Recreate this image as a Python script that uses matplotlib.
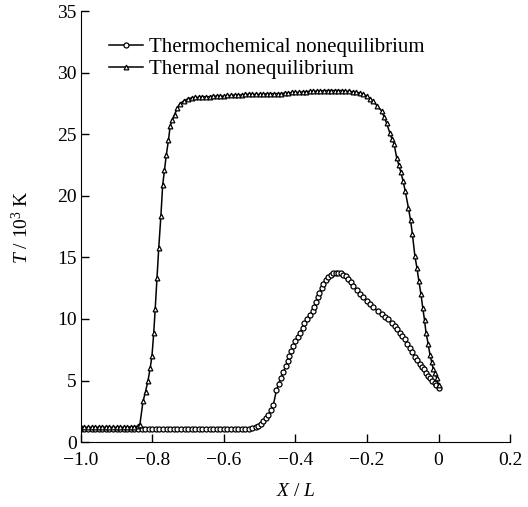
import numpy as np
import matplotlib
matplotlib.use('Agg')
import matplotlib.pyplot as plt

plt.rcParams['font.family'] = 'Liberation Serif'
plt.rcParams['mathtext.fontset'] = 'custom'
plt.rcParams['mathtext.rm'] = 'Liberation Serif'
plt.rcParams['mathtext.it'] = 'Liberation Serif:italic'

# Thermochemical nonequilibrium (circles)
chem_x = [-1.00, -0.99, -0.98, -0.97, -0.96, -0.95, -0.94, -0.93, -0.92, -0.91,
          -0.90, -0.89, -0.88, -0.87, -0.86, -0.85, -0.84, -0.83, -0.82, -0.81,
          -0.80, -0.79, -0.78, -0.77, -0.76, -0.75, -0.74, -0.73, -0.72, -0.71,
          -0.70, -0.69, -0.68, -0.67, -0.66, -0.65, -0.64, -0.63, -0.62, -0.61,
          -0.60, -0.59, -0.58, -0.57, -0.56, -0.55, -0.54, -0.53, -0.52, -0.51,
          -0.504, -0.497, -0.490, -0.483, -0.476, -0.469, -0.462, -0.453, -0.447, -0.441,
          -0.434, -0.427, -0.422, -0.417, -0.411, -0.406, -0.400, -0.394, -0.387, -0.380,
          -0.375, -0.369, -0.360, -0.352, -0.347, -0.343, -0.338, -0.333, -0.327, -0.322,
          -0.315, -0.308, -0.301, -0.294, -0.287, -0.280, -0.273, -0.266, -0.259, -0.252,
          -0.245, -0.238, -0.229, -0.220, -0.210, -0.201, -0.191, -0.182, -0.170, -0.159,
          -0.150, -0.140, -0.131, -0.122, -0.115, -0.108, -0.101, -0.094, -0.087, -0.080,
          -0.073, -0.066, -0.059, -0.052, -0.046, -0.041, -0.035, -0.029, -0.023, -0.017,
          -0.011, -0.006, 0.0]
chem_t = [1.1, 1.1, 1.1, 1.1, 1.1, 1.1, 1.1, 1.1, 1.1, 1.1,
          1.1, 1.1, 1.1, 1.1, 1.1, 1.1, 1.1, 1.1, 1.1, 1.1,
          1.1, 1.1, 1.1, 1.1, 1.1, 1.1, 1.1, 1.1, 1.1, 1.1,
          1.1, 1.1, 1.1, 1.1, 1.1, 1.1, 1.1, 1.1, 1.1, 1.1,
          1.1, 1.1, 1.1, 1.1, 1.1, 1.1, 1.1, 1.1, 1.15, 1.2,
          1.3, 1.5, 1.7, 1.95, 2.2, 2.6, 3.0, 4.2, 4.7, 5.2,
          5.7, 6.15, 6.6, 7.0, 7.4, 7.8, 8.2, 8.55, 8.9, 9.3,
          9.65, 10.0, 10.3, 10.65, 11.0, 11.35, 11.75, 12.15, 12.5, 12.85,
          13.15, 13.4, 13.6, 13.7, 13.75, 13.75, 13.7, 13.6, 13.45, 13.25,
          13.0, 12.7, 12.35, 12.0, 11.75, 11.5, 11.2, 10.95, 10.65, 10.4,
          10.2, 10.0, 9.7, 9.45, 9.15, 8.9, 8.6, 8.35, 8.0, 7.65,
          7.3, 6.95, 6.65, 6.35, 6.1, 5.9, 5.65, 5.4, 5.2, 5.0,
          4.8, 4.6, 4.4]

# Thermal nonequilibrium (triangles)
therm_x = [-1.00, -0.99, -0.98, -0.97, -0.96, -0.95, -0.94, -0.93, -0.92, -0.91,
           -0.90, -0.89, -0.88, -0.87, -0.86, -0.85, -0.84, -0.835,
           -0.826, -0.819, -0.812, -0.806, -0.801, -0.796, -0.792, -0.787, -0.782, -0.776,
           -0.771, -0.766, -0.761, -0.755, -0.750, -0.744, -0.738, -0.730, -0.723, -0.712,
           -0.70, -0.69, -0.68, -0.67, -0.66, -0.65, -0.64, -0.63, -0.62, -0.61,
           -0.60, -0.59, -0.58, -0.57, -0.56, -0.55, -0.54, -0.53, -0.52, -0.51,
           -0.50, -0.49, -0.48, -0.47, -0.46, -0.45, -0.44, -0.43, -0.42, -0.41,
           -0.40, -0.39, -0.38, -0.37, -0.36, -0.35, -0.34, -0.33, -0.32, -0.31,
           -0.30, -0.29, -0.28, -0.27, -0.26, -0.25, -0.24, -0.23, -0.22, -0.21,
           -0.201, -0.192, -0.183, -0.171, -0.159, -0.152, -0.145, -0.136, -0.130, -0.124,
           -0.117, -0.111, -0.105, -0.099, -0.093, -0.084, -0.078, -0.073, -0.066, -0.060,
           -0.055, -0.049, -0.044, -0.039, -0.035, -0.029, -0.024, -0.019, -0.015, -0.010,
           -0.005, 0.0]
therm_t = [1.2, 1.2, 1.2, 1.2, 1.2, 1.2, 1.2, 1.2, 1.2, 1.2,
           1.2, 1.2, 1.2, 1.2, 1.25, 1.25, 1.3, 1.4,
           3.3, 4.1, 5.0, 6.0, 7.0, 8.9, 10.8, 13.3, 15.8, 18.4,
           20.9, 22.1, 23.3, 24.5, 25.7, 26.2, 26.6, 27.1, 27.5, 27.7,
           27.9, 27.95, 28.0, 28.0, 28.05, 28.05, 28.05, 28.1, 28.1, 28.1,
           28.1, 28.15, 28.15, 28.2, 28.2, 28.2, 28.25, 28.25, 28.25, 28.25,
           28.25, 28.25, 28.3, 28.3, 28.3, 28.3, 28.3, 28.35, 28.35, 28.4,
           28.4, 28.4, 28.45, 28.45, 28.5, 28.5, 28.5, 28.5, 28.55, 28.55,
           28.55, 28.55, 28.55, 28.55, 28.5, 28.5, 28.45, 28.4, 28.35, 28.25,
           28.1, 27.9, 27.7, 27.3, 26.9, 26.4, 25.9, 25.1, 24.6, 24.2,
           23.1, 22.5, 21.9, 21.2, 20.4, 19.0, 18.0, 16.9, 15.1, 14.1,
           13.1, 12.0, 10.9, 9.9, 8.9, 8.0, 7.1, 6.5, 5.95, 5.6,
           5.2, 4.6]

fig = plt.figure(figsize=(5.28, 5.07), dpi=100)
ax = fig.add_axes([0.153, 0.128, 0.813, 0.850])

ax.plot(chem_x, chem_t, '-', color='black', lw=1.1, marker='o', ms=3.6,
        mfc='white', mec='black', mew=0.9, label='Thermochemical nonequilibrium')
ax.plot(therm_x, therm_t, '-', color='black', lw=1.1, marker='^', ms=3.4,
        mfc='white', mec='black', mew=0.9, label='Thermal nonequilibrium')

ax.set_xlim(-1.0, 0.2)
ax.set_ylim(0, 35)
ax.set_xticks([-1.0, -0.8, -0.6, -0.4, -0.2, 0, 0.2])
ax.set_xticklabels(['\u22121.0', '\u22120.8', '\u22120.6', '\u22120.4', '\u22120.2', '0', '0.2'])
ax.set_yticks([0, 5, 10, 15, 20, 25, 30, 35])
ax.tick_params(direction='in', length=5.5, width=1, labelsize=14, pad=3)
ax.tick_params(axis='x', pad=7)
ax.spines['top'].set_visible(False)
ax.spines['right'].set_visible(False)

ax.set_xlabel(r'$X$ / $L$', fontsize=14, labelpad=10)
ax.set_ylabel(r'$T$ / 10$^3$ K', fontsize=14, labelpad=18)

ax.legend(loc='upper left', bbox_to_anchor=(0.047, 0.958), frameon=False,
          fontsize=15, handlelength=1.6, handletextpad=0.3, labelspacing=0.12,
          borderaxespad=0)

fig.savefig('out.png', dpi=100)
